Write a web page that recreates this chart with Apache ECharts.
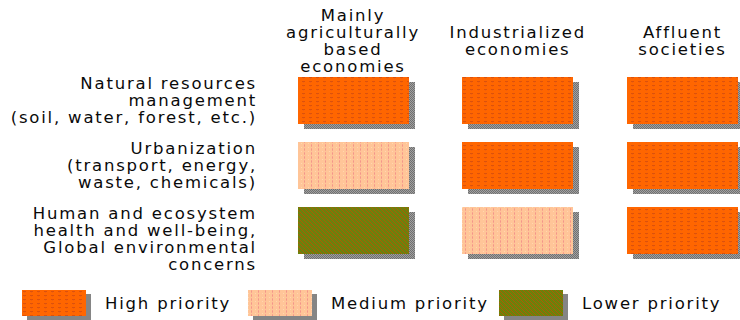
<!DOCTYPE html>
<html>
<head>
<meta charset="utf-8">
<title>Environmental priorities by economy type</title>
<script src="https://cdn.jsdelivr.net/npm/echarts@6/dist/echarts.min.js"></script>
<style>
  html, body { margin: 0; padding: 0; background: #fff; }
  #chart { width: 740px; height: 320px; }
  /* the original lettering is quite spread out */
  #chart text { letter-spacing: 1.8px; }
</style>
</head>
<body>
<div id="chart"></div>
<script>
// columns
const economies = [
  'Mainly\nagriculturally\nbased\neconomies',
  'Industrialized\neconomies',
  'Affluent\nsocieties'
];
// rows
const concerns = [
  'Natural resources\nmanagement\n(soil, water, forest, etc.)',
  'Urbanization\n(transport, energy,\nwaste, chemicals)',
  'Human and ecosystem\nhealth and well-being,\nGlobal environmental\nconcerns'
];
const priorities = ['High priority', 'Medium priority', 'Lower priority'];
// priority index for each concern (row) and economy (column)
const priorityGrid = [
  [0, 0, 0],
  [1, 0, 0],
  [2, 1, 0]
];

// small dithered tiles, like the old gif fills
function tile(w, h, bg, dots) {
  const c = document.createElement('canvas');
  c.width = w; c.height = h;
  const ctx = c.getContext('2d');
  ctx.fillStyle = bg;
  ctx.fillRect(0, 0, w, h);
  dots.forEach(function (d) {
    ctx.fillStyle = d[2];
    ctx.fillRect(d[0], d[1], 1, 1);
  });
  return { image: c, repeat: 'repeat' };
}

const fills = [
  tile(7, 4, '#ff6600', [[1, 1, '#d9530c'], [2, 1, '#e0500a'], [3, 1, '#d9530c'], [2, 2, '#f06010']]),
  tile(7, 4, '#ffc598', [[3, 0, '#f7a48f'], [3, 1, '#f4958a'], [3, 2, '#f7a48f'], [0, 3, '#ffd6b0']]),
  tile(4, 4, '#7b7806', [[0, 0, '#9a6808'], [1, 1, '#9a6808'], [2, 2, '#9a6808'], [3, 3, '#9a6808'],
                         [2, 0, '#5a8c14'], [3, 1, '#5a8c14'], [0, 2, '#5a8c14'], [1, 3, '#5a8c14']])
];
const shadowFill = tile(2, 2, '#a0a0a0', [[0, 0, '#707070'], [1, 1, '#707070']]);

const font = 'DejaVu Sans';
const fs = 16.5;
const textColor = '#0a0a0a';
const cellW = 111, cellH = 47;
const chart = echarts.init(document.getElementById('chart'), null, { renderer: 'svg' });

function renderCell(params, api) {
  const p = api.coord([api.value(0), api.value(1)]);
  const x = Math.round(p[0] - cellW / 2), y = Math.round(p[1] - cellH / 2);
  return {
    type: 'group',
    children: [
      { type: 'rect', shape: { x: x + 6, y: y + 5, width: cellW, height: cellH }, style: { fill: shadowFill } },
      { type: 'rect', shape: { x: x, y: y, width: cellW, height: cellH }, style: { fill: fills[params.seriesIndex] } }
    ]
  };
}

const series = priorities.map(function (p, k) {
  const pts = [];
  priorityGrid.forEach(function (row, r) {
    row.forEach(function (v, c) {
      if (v === k) pts.push([c, r]);
    });
  });
  return {
    name: p,
    type: 'custom',
    renderItem: renderCell,
    data: pts,
    itemStyle: { color: fills[k] },
    emphasis: { disabled: true }
  };
});

function legendAt(name, left) {
  return {
    data: [name],
    left: left,
    top: 290,
    padding: 0,
    icon: 'rect',
    itemWidth: 64,
    itemHeight: 26,
    selectedMode: false,
    itemStyle: {
      shadowColor: 'rgba(120,120,120,0.9)',
      shadowBlur: 0,
      shadowOffsetX: 5,
      shadowOffsetY: 4
    },
    textStyle: { fontFamily: font, fontSize: fs, color: textColor, padding: [0, 0, 0, 14] }
  };
}

chart.setOption({
  animation: false,
  grid: { left: 353, right: 57.5, top: 100.5, bottom: 90 },
  xAxis: {
    type: 'category',
    position: 'top',
    data: economies,
    boundaryGap: false,
    axisLine: { show: false },
    axisTick: { show: false },
    splitLine: { show: false },
    axisLabel: {
      margin: 60,
      verticalAlign: 'middle',
      lineHeight: 17,
      fontFamily: font,
      fontSize: fs,
      color: textColor,
      interval: 0
    }
  },
  yAxis: {
    type: 'category',
    data: concerns,
    inverse: true,
    boundaryGap: false,
    axisLine: { show: false },
    axisTick: { show: false },
    splitLine: { show: false },
    axisLabel: {
      margin: 96,
      align: 'right',
      verticalAlign: 'middle',
      lineHeight: 17,
      fontFamily: font,
      fontSize: fs,
      color: textColor,
      interval: 0,
      // four-line labels sit lower, top-aligned with their box
      formatter: function (v) {
        return v.split('\n').length > 3 ? '\n' + v : v;
      }
    }
  },
  legend: [
    legendAt(priorities[0], 22),
    legendAt(priorities[1], 248),
    legendAt(priorities[2], 499)
  ],
  series: series
});
</script>
</body>
</html>
